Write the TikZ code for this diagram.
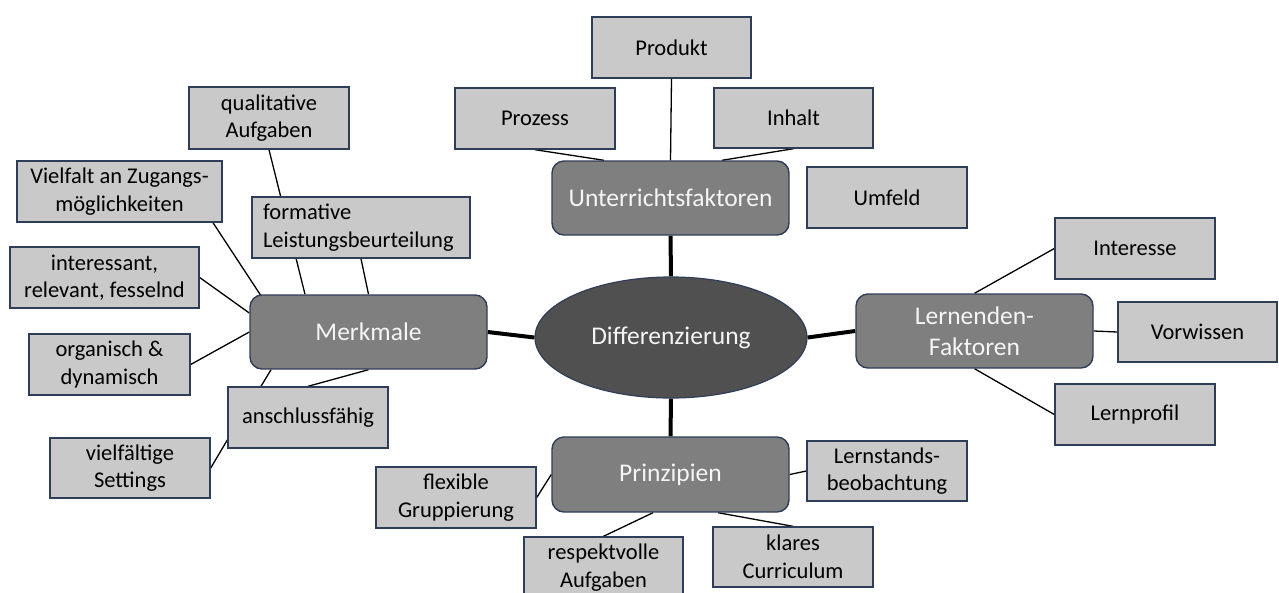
\documentclass[tikz,border=0pt]{standalone}
\usepackage{fontspec}
\setmainfont{Carlito}
\usetikzlibrary{shapes.geometric,backgrounds}
\definecolor{leaffill}{RGB}{201,201,201}
\definecolor{edgecol}{RGB}{47,62,88}
\definecolor{mainfill}{RGB}{127,127,127}
\definecolor{ellfill}{RGB}{80,80,80}
\definecolor{maintext}{RGB}{245,245,245}
\tikzset{
  leaf/.style={draw=edgecol, line width=1.4pt, fill=leaffill, inner sep=0pt,
    minimum width=160pt, minimum height=61pt, align=center, text=black,
    font=\fontsize{22.5}{27.5}\selectfont},
  mainbox/.style={draw=edgecol, line width=1.4pt, fill=mainfill, rounded corners=12pt,
    inner sep=0pt, minimum width=237pt, minimum height=74pt, align=center, text=maintext,
    font=\fontsize{25.5}{31.5}\selectfont},
  centre/.style={ellipse, draw=edgecol, line width=1.2pt, fill=ellfill, inner sep=0pt,
    minimum width=272pt, minimum height=121pt, text=maintext,
    font=\fontsize{25.5}{31.5}\selectfont},
  conn/.style={draw=black, line width=1.3pt},
  thick conn/.style={draw=black, line width=4pt}
}
\begin{document}
\begin{tikzpicture}[x=1pt,y=-1pt]
\useasboundingbox (0,0) rectangle (1279,592);
% centre
\node[centre] (diff) at (671,337.5) {Differenzierung};
% main boxes
\node[mainbox] (uf) at (670.5,198) {Unterrichtsfaktoren};
\node[mainbox] (merk) at (368.5,332) {Merkmale};
\node[mainbox] (lf) at (974.5,331) {Lernenden-\\Faktoren};
\node[mainbox, minimum height=75pt] (pr) at (670.5,474.5) {Prinzipien};
% top leaves
\node[leaf, minimum width=159pt] (prod) at (671.5,47.5) {Produkt};
\node[leaf] (proz) at (535,118.5) {Prozess};
\node[leaf, minimum width=159pt, minimum height=60pt] (inh) at (793.5,118) {Inhalt};
\node[leaf] (umf) at (887,197.5) {Umfeld};
% left leaves
\node[leaf, minimum height=62pt] (qa) at (269,118) {qualitative\\Aufgaben};
\node[leaf, minimum width=205pt] (vz) at (119.5,191.5) {Vielfalt an Zugangs-\\möglichkeiten};
\node[leaf, text width=196pt, inner xsep=11pt, align=left] (fl) at (361,227.5) {formative\\Leistungsbeurteilung};
\node[leaf, minimum width=189pt] (irf) at (104.5,277.5) {interessant,\\relevant, fesselnd};
\node[leaf, minimum width=161pt] (org) at (109.5,364.5) {organisch \&\\dynamisch};
\node[leaf] (ans) at (308,417.5) {anschlussfähig};
\node[leaf, minimum height=60pt] (vs) at (130,468) {vielfältige\\Settings};
% right leaves
\node[leaf] (int) at (1135,248.5) {Interesse};
\node[leaf, minimum width=159pt, minimum height=60pt] (vor) at (1197.5,332) {Vorwissen};
\node[leaf] (lp) at (1135,414.5) {Lernprofil};
% bottom leaves
\node[leaf] (flex) at (456,497.5) {flexible\\Gruppierung};
\node[leaf, minimum width=159pt] (resp) at (603.5,567.5) {respektvolle\\Aufgaben};
\node[leaf, minimum height=60pt] (klar) at (793,557) {klares\\Curriculum};
\node[leaf, minimum height=60pt] (lsb) at (887,471) {Lernstands-\\beobachtung};
% connectors
\begin{scope}[on background layer]
  \draw[thick conn] (diff.north) -- (uf.south);
  \draw[thick conn] (diff.south) -- (pr.north);
  \draw[thick conn] (diff.west) -- (merk.east);
  \draw[thick conn] (diff.east) -- (lf.west);
  % Unterrichtsfaktoren
  \draw[conn] (proz.south) -- ([xshift=-66.5pt]uf.north);
  \draw[conn] (prod.south) -- (uf.north);
  \draw[conn] (inh.south) -- ([xshift=51.5pt]uf.north);
  % Merkmale
  \draw[conn] (qa.south) -- ([xshift=-63.5pt]merk.north);
  \draw[conn] (fl.south) -- (merk.north);
  \draw[conn] ([xshift=93.5pt]vz.south) -- ([xshift=14pt,yshift=-5pt]merk.north west);
  \draw[conn] (irf.east) -- ([yshift=19pt]merk.west);
  \draw[conn] (org.east) -- (merk.west);
  \draw[conn] ([xshift=-47pt]ans.north) -- ([xshift=-97.5pt]merk.south);
  \draw[conn] (ans.north) -- (merk.south);
  \draw[conn] (vs.east) -- ([yshift=-22.5pt]ans.west);
  % Lernenden-Faktoren
  \draw[conn] (lf.north) -- (int.west);
  \draw[conn] (lf.east) -- (vor.west);
  \draw[conn] (lf.south) -- (lp.west);
  % Prinzipien
  \draw[conn] (flex.east) -- (pr.west);
  \draw[conn] (resp.north) -- ([xshift=-17.5pt]pr.south);
  \draw[conn] (klar.north) -- ([xshift=47.5pt]pr.south);
  \draw[conn] (pr.east) -- (lsb.west);
\end{scope}
\end{tikzpicture}
\end{document}
